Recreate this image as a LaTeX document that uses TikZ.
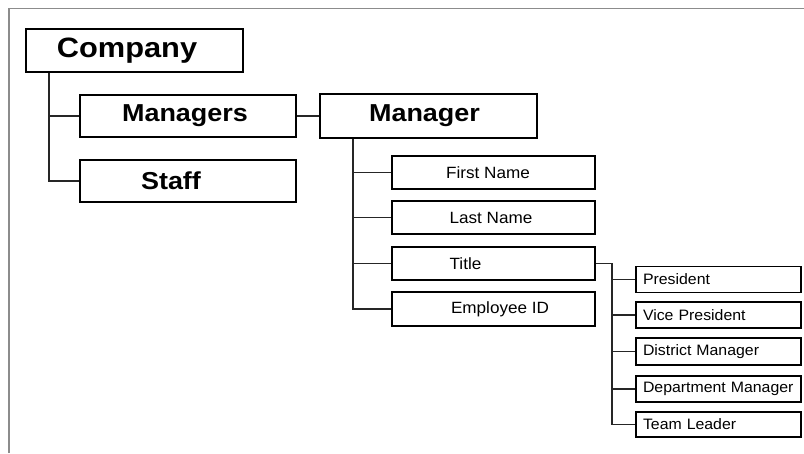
\documentclass[tikz,border=0pt]{standalone}
\usepackage{fontspec}
\setmainfont{Liberation Sans}
\newfontfamily\wideb[FakeStretch=1.1]{Liberation Sans}
\newfontfamily\widen[FakeStretch=1.05]{Liberation Sans}
\begin{document}
\begin{tikzpicture}[x=1pt,y=1pt,
  bigbox/.style={draw=black,line width=2pt,minimum height=42pt,minimum width=216pt,inner sep=0pt,
    font=\wideb\bfseries\fontsize{24.5}{26}\selectfont},
  midbox/.style={draw=black,line width=1.4pt,minimum height=33pt,minimum width=203pt,inner sep=0pt,
    font=\widen\fontsize{16.3}{18}\selectfont},
  subbox/.style={draw=black,line width=1.4pt,minimum height=26pt,text width=151pt,minimum width=165pt,
    inner xsep=7pt,inner ysep=0pt,align=left,font=\widen\fontsize{15.1}{17}\selectfont},
  conn/.style={draw=black!85,line width=1.3pt},
  frame/.style={draw=black!45,line width=1.6pt}]
\useasboundingbox (0,0) rectangle (804,-453);
\draw[frame] (9,-453) -- (9,-8.5) -- (804,-8.5);

\node[bigbox,minimum width=217pt,minimum height=43pt,font=\wideb\bfseries\fontsize{28}{30}\selectfont] (company) at (134.5,-50.5) {Company\kern15pt};
\node[bigbox] (managers) at (188,-116) {Managers\kern6pt};
\node[bigbox] (staff) at (188,-181) {Staff\kern34pt};
\node[bigbox,minimum width=217pt,minimum height=44pt] (manager) at (428.5,-116) {Manager\kern8pt};

\node[midbox] (first) at (493.5,-172.5) {First Name\kern11pt};
\node[midbox] (last) at (493.5,-217.5) {Last Name\kern5pt};
\node[midbox] (title) at (493.5,-263.5) {Title\kern56pt};
\node[midbox,minimum height=34pt] (emp) at (493.5,-309) {\kern13pt Employee ID};

\node[subbox] (pres) at (718.5,-279.5) {President};
\node[subbox] (vp) at (718.5,-315) {Vice President};
\node[subbox,minimum height=27pt] (dm) at (718.5,-351.5) {District Manager};
\node[subbox] (dep) at (718.5,-389) {Department Manager};
\node[subbox,minimum height=25pt] (tl) at (718.5,-424.5) {Team Leader};

\coordinate (t1) at (49,0);
\coordinate (t2) at (353,0);
\coordinate (t3) at (612,0);

\draw[conn] (company.south -| t1) |- (staff.west);
\draw[conn] (t1 |- managers.west) -- (managers.west);
\draw[conn] (managers.east) -- (manager.west);

\draw[conn] (manager.south -| t2) |- (emp.west);
\draw[conn] (t2 |- first.west) -- (first.west);
\draw[conn] (t2 |- last.west) -- (last.west);
\draw[conn] (t2 |- title.west) -- (title.west);

\draw[conn] (title.east) -- (t3 |- title.east) |- (tl.west);
\draw[conn] (t3 |- pres.west) -- (pres.west);
\draw[conn] (t3 |- vp.west) -- (vp.west);
\draw[conn] (t3 |- dm.west) -- (dm.west);
\draw[conn] (t3 |- dep.west) -- (dep.west);
\end{tikzpicture}
\end{document}
